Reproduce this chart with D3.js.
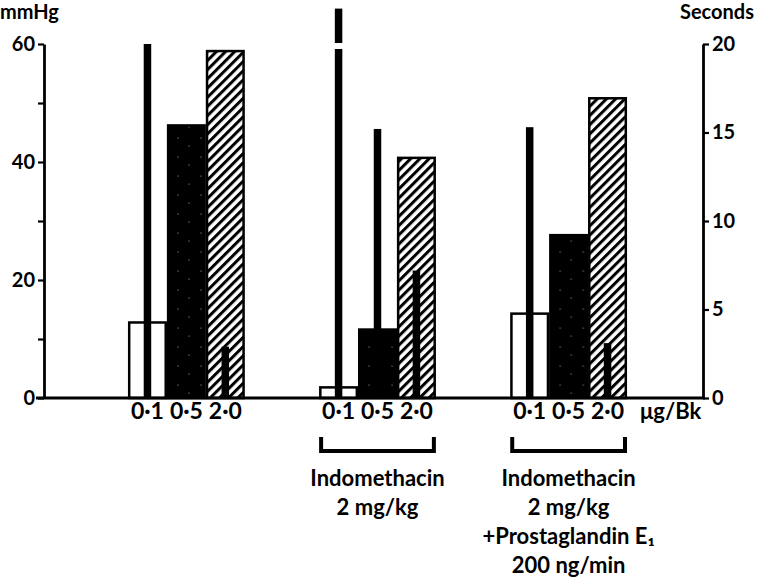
<!DOCTYPE html>
<html>
<head>
<meta charset="utf-8">
<script src="https://cdn.jsdelivr.net/npm/d3@7"></script>
<style>
  body { margin: 0; background: #fff; }
  svg text { font-family: Lato, "Open Sans", sans-serif; font-weight: bold; fill: #000; }
</style>
</head>
<body>
<svg id="chart" width="757" height="585"></svg>
<script>
// groups of injections, doses of bradykinin
var groups = ["control", "indo", "indoPge"];
var doses = ["0·1", "0·5", "2·0"];
// blood pressure fall (mmHg), per group and dose
var pressure = [
    [12.8, 46.2, 58.8],
    [1.8, 11.6, 40.7],
    [14.3, 27.6, 50.8]
];
// duration (seconds), null where hidden inside the black bar
var duration = [
    [20, null, 2.9],
    [22, 15.2, 7.2],
    [15.3, null, 3.1]
];
var leftTicks = [0, 10, 20, 30, 40, 50, 60];
var rightTicks = [0, 5, 10, 15, 20];
var groupNotes = [
    [],
    ["Indomethacin", "2 mg/kg"],
    ["Indomethacin", "2 mg/kg", "+Prostaglandin E₁", "200 ng/min"]
];

var svg = d3.select("#chart");
var plot = { left: 44, right: 703, top: 44, bottom: 398 };

var yP = d3.scaleLinear().domain([0, 60]).range([plot.bottom, plot.top]);
var yS = d3.scaleLinear().domain([0, 20]).range([plot.bottom, plot.top]);

var xG = d3.scaleBand().domain(groups).range([128, 627]).paddingInner(0.389).paddingOuter(0);
var xD = d3.scaleBand().domain(doses).range([0, xG.bandwidth()]).padding(0);

// patterns
var defs = svg.append("defs");
var hatch = defs.append("pattern")
    .attr("id", "hatch")
    .attr("patternUnits", "userSpaceOnUse")
    .attr("width", 6.5).attr("height", 6.5)
    .attr("patternTransform", "rotate(45)");
hatch.append("rect").attr("width", 6.5).attr("height", 6.5).attr("fill", "#fff");
hatch.append("rect").attr("width", 3).attr("height", 6.5).attr("fill", "#000");

var stipple = defs.append("pattern")
    .attr("id", "stipple")
    .attr("patternUnits", "userSpaceOnUse")
    .attr("width", 23).attr("height", 19);
stipple.append("rect").attr("width", 23).attr("height", 19).attr("fill", "#000");
[[4, 5], [15, 13]].forEach(function (p) {
    stipple.append("circle").attr("cx", p[0]).attr("cy", p[1]).attr("r", 0.6).attr("fill", "#bbb");
});
var fills = ["#fff", "url(#stipple)", "url(#hatch)"];

// bars
var g = svg.selectAll(".grp")
    .data(groups)
    .enter().append("g")
    .attr("class", "grp")
    .attr("transform", function (d) { return "translate(" + xG(d) + ",0)"; });

g.selectAll(".bar")
    .data(function (d, i) { return pressure[i].map(function (v, j) { return { dose: doses[j], v: v, j: j }; }); })
    .enter().append("rect")
    .attr("class", "bar")
    .attr("x", function (d) { return xD(d.dose) + 1.2; })
    .attr("width", xD.bandwidth() - 2.4)
    .attr("y", function (d) { return yP(d.v); })
    .attr("height", function (d) { return yP(0) - yP(d.v); })
    .attr("fill", function (d) { return fills[d.j]; })
    .attr("stroke", "#000")
    .attr("stroke-width", 2.5);

var thinW = 7.5;
g.each(function (grp, i) {
    var sel = d3.select(this);
    duration[i].forEach(function (v, j) {
        if (v == null) return;
        var cx = xD(doses[j]) + xD.bandwidth() / 2;
        sel.append("rect")
            .attr("x", cx - thinW / 2)
            .attr("width", thinW)
            .attr("y", yS(v))
            .attr("height", yS(0) - yS(v))
            .attr("fill", "#000");
        if (v > 20) {
            // broken bar above the scale
            sel.append("rect")
                .attr("x", cx - thinW / 2 - 1)
                .attr("width", thinW + 2)
                .attr("y", yS(20) - 1)
                .attr("height", 6)
                .attr("fill", "#fff");
        }
    });
});

// baseline
svg.append("line")
    .attr("x1", plot.left - 8).attr("x2", plot.right + 2)
    .attr("y1", yP(0)).attr("y2", yP(0))
    .attr("stroke", "#000").attr("stroke-width", 3);

// left axis
var la = svg.append("g")
    .attr("transform", "translate(" + plot.left + ",0)")
    .call(d3.axisLeft(yP).tickValues(leftTicks).tickSize(6).tickSizeOuter(0)
        .tickFormat(function (d) { return d % 20 === 0 ? d : ""; }));
la.select(".domain").attr("stroke-width", 2.8);
la.selectAll(".tick line").attr("stroke-width", 2.2);
la.selectAll(".tick text").attr("font-size", 20).attr("x", -9);

// right axis
var ra = svg.append("g")
    .attr("transform", "translate(" + plot.right + ",0)")
    .call(d3.axisRight(yS).tickValues(rightTicks).tickSize(6).tickSizeOuter(0));
ra.select(".domain").attr("stroke-width", 2.8);
ra.selectAll(".tick line").attr("stroke-width", 2.2);
ra.selectAll(".tick text").attr("font-size", 20).attr("x", 9);
svg.selectAll(".tick text").style("font-family", "Lato, sans-serif").style("font-weight", "bold");

// axis titles
svg.append("text").attr("x", 0).attr("y", 19).attr("font-size", 20).text("mmHg");
svg.append("text").attr("x", 754).attr("y", 19).attr("font-size", 20)
    .attr("text-anchor", "end").text("Seconds");

// dose labels
g.selectAll(".dl")
    .data(doses)
    .enter().append("text")
    .attr("class", "dl")
    .attr("x", function (d) { return xD(d) + xD.bandwidth() / 2; })
    .attr("y", 419)
    .attr("text-anchor", "middle")
    .attr("font-size", 23)
    .text(function (d) { return d; });

svg.append("text")
    .attr("x", xG(groups[2]) + xG.bandwidth() + 13)
    .attr("y", 419)
    .attr("font-size", 22)
    .text("μg/Bk");

// brackets and notes
g.each(function (grp, i) {
    if (!groupNotes[i].length) return;
    var sel = d3.select(this);
    var w = xG.bandwidth();
    sel.append("path")
        .attr("d", "M2,437V451H" + (w - 2) + "V437")
        .attr("fill", "none")
        .attr("stroke", "#000")
        .attr("stroke-width", 4);
    groupNotes[i].forEach(function (t, k) {
        sel.append("text")
            .attr("x", w / 2)
            .attr("y", 486 + k * 29)
            .attr("text-anchor", "middle")
            .attr("font-size", 22)
            .text(t);
    });
});
</script>
</body>
</html>
